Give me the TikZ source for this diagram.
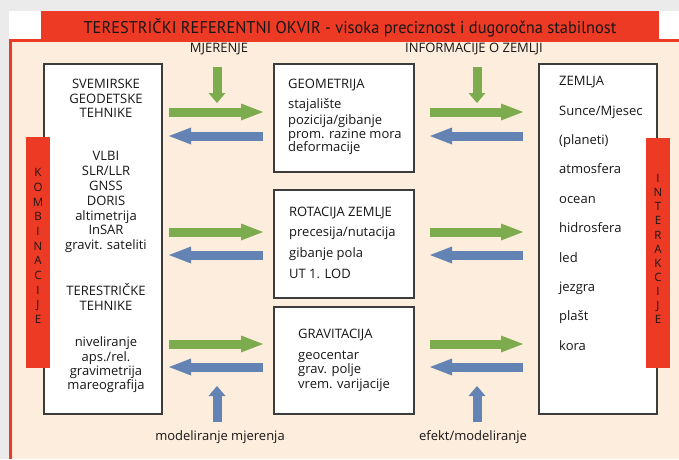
\documentclass[tikz,border=0pt]{standalone}
\usepackage{fontspec}
\setmainfont{Open Sans}
\newfontfamily\titlefont{PT Sans}
\usetikzlibrary{arrows.meta}
\definecolor{redc}{RGB}{237,58,36}
\definecolor{greenc}{RGB}{124,172,78}
\definecolor{bluec}{RGB}{100,131,181}
\definecolor{beigec}{RGB}{252,237,220}
\definecolor{grayc}{RGB}{235,235,235}
\definecolor{boxc}{RGB}{60,60,60}
\definecolor{txtc}{RGB}{25,22,23}
\begin{document}
\begin{tikzpicture}[x=1pt,y=-1pt,
  box/.style={draw=boxc, fill=white, line width=1.2pt, outer sep=0pt, inner sep=0pt},
  redbar/.style={fill=redc, draw=none, outer sep=0pt, inner sep=0pt},
  txt/.style={text=txtc, inner sep=0pt, font=\fontsize{13}{15}\selectfont},
  ctxt/.style={txt, anchor=mid},
  ltxt/.style={txt, anchor=mid west},
  ltr/.style={text=txtc, inner sep=0pt, anchor=mid, font=\fontsize{11.5}{13}\selectfont},
  harr/.style={line width=9pt, -{Triangle[length=22pt,width=17pt,line width=0pt]}},
  varr/.style={line width=9pt, -{Triangle[length=10pt,width=17pt,line width=0pt]}}
]
\useasboundingbox (0,0) rectangle (679,459);
% background
\fill[grayc] (0,0) rectangle (679,459);
\fill[white] (9,11) rectangle (679,39);
\fill[redc] (41,11) rectangle (659,39);
\fill[beigec] (9,39) rectangle (679,459);
\draw[redc, line width=3pt] (10.5,459) -- (10.5,40.5) -- (679,40.5);
% title
\node[text=txtc, inner sep=0pt, font=\titlefont\fontsize{17}{20}\selectfont] (T) at (350,28)
  {\scalebox{0.965}[1]{TERESTRIČKI REFERENTNI OKVIR - visoka preciznost i dugoročna stabilnost}};
% boxes
\node[box, minimum width=118pt, minimum height=350pt] (L) at (103,239) {};
\node[box, minimum width=140pt, minimum height=108pt] (G) at (344,118) {};
\node[box, minimum width=140pt, minimum height=108pt] (R) at (344,244) {};
\node[box, minimum width=140pt, minimum height=107pt] (V) at (344,360.5) {};
\node[box, minimum width=118pt, minimum height=350pt] (Z) at (598,239) {};
% red side bars
\node[redbar, minimum width=24pt, minimum height=231pt] (KB) at (38,252.5) {};
\node[redbar, minimum width=24pt, minimum height=230pt] (IB) at (658,253) {};
\foreach \c [count=\i] in {K,O,M,B,I,N,A,C,I,J,E}
  \node[ltr] (k\i) at (38,{174+14.7*(\i-1)}) {\c};
\foreach \c [count=\i] in {I,N,T,E,R,A,K,C,I,J,E}
  \node[ltr] (n\i) at (658,{180+14.1*(\i-1)}) {\c};
% left box text
\foreach \y/\t [count=\i] in {86/SVEMIRSKE, 101/GEODETSKE, 115/TEHNIKE, 158/VLBI, 173/{SLR/LLR}, 188/GNSS, 203/DORIS, 218/altimetrija, 232/InSAR, 247/gravit. sateliti, 293/TERESTRIČKE, 308/TEHNIKE, 344/niveliranje, 359/{aps./rel.}, 373/gravimetrija, 387/mareografija}
  \node[ctxt] (lt\i) at (106,\y) {\t};
% geometry box text
\foreach \y/\t [count=\i] in {86/GEOMETRIJA, 106/stajalište, 122/{pozicija/gibanje}, 136/prom. razine mora, 149/deformacije}
  \node[ltxt] (gt\i) at (288,\y) {\t};
\foreach \y/\t [count=\i] in {214/ROTACIJA ZEMLJE, 234/{precesija/nutacija}, 255/gibanje pola, 276/UT 1. LOD}
  \node[ltxt] (rt\i) at (289,\y) {\t};
\foreach \y/\t [count=\i] in {336/GRAVITACIJA, 357/geocentar, 371/grav. polje, 386/vrem. varijacije}
  \node[ltxt] (vt\i) at (298,\y) {\t};
% right box text
\foreach \t [count=\i] in {ZEMLJA, {Sunce/Mjesec}, (planeti), atmosfera, ocean, hidrosfera, led, jezgra, plašt, kora}
  \node[ltxt] (zt\i) at (559,{83+29.4*(\i-1)}) {\t};
% labels
\node[ctxt] (M) at (219,50) {MJERENJE};
\node[ctxt] (I) at (474,50) {INFORMACIJE O ZEMLJI};
\node[ctxt] (MM) at (220,438) {modeliranje mjerenja};
\node[ctxt] (EM) at (473,438) {efekt/modeliranje};
\coordinate (m1) at (217,67);  \coordinate (m2) at (217,103);
\coordinate (i1) at (477,67);  \coordinate (i2) at (477,103);
\coordinate (b1) at (217,422); \coordinate (b2) at (217,386);
\coordinate (e1) at (477,422); \coordinate (e2) at (477,386);
\draw[varr, greenc] (m1) -- (m2);
\draw[varr, greenc] (i1) -- (i2);
\draw[varr, bluec] (b1) -- (b2);
\draw[varr, bluec] (e1) -- (e2);
% horizontal arrows
\foreach \gy/\by/\N in {112/136/G, 232/255/R, 344/367/V}{
  \draw[harr, greenc, shorten <=7pt, shorten >=11pt] (L.east |- 0,\gy) -- (\N.west |- 0,\gy);
  \draw[harr, bluec, shorten <=11pt, shorten >=7pt] (\N.west |- 0,\by) -- (L.east |- 0,\by);
  \draw[harr, greenc, shorten <=16pt, shorten >=16pt] (\N.east |- 0,\gy) -- (Z.west |- 0,\gy);
  \draw[harr, bluec, shorten <=16pt, shorten >=16pt] (Z.west |- 0,\by) -- (\N.east |- 0,\by);
}
\end{tikzpicture}
\end{document}
